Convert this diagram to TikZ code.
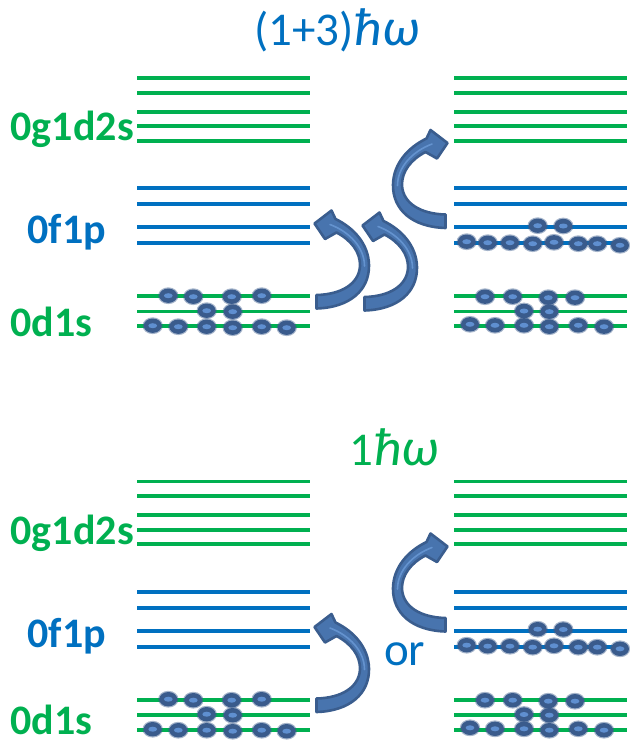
\documentclass[tikz,border=0pt]{standalone}
\usepackage{fontspec}
\setmainfont{Carlito}
\definecolor{lvgreen}{HTML}{00B050}
\definecolor{lvblue}{HTML}{0070C0}
\definecolor{pdark}{HTML}{3A5B8C}
\definecolor{plight}{HTML}{5F8FD0}
\definecolor{arrline}{HTML}{3A5D8E}
\definecolor{arrfill}{HTML}{4874AE}
\definecolor{arrshine}{HTML}{6C9BD8}

% curved arrow, tail at lower left, head pointing left at the top
\newcommand\bentarrow{%
  \filldraw[arrowbody]
    (316.5,308.5) .. controls (350,307.5) and (369.5,290) .. (369,265)
    .. controls (368.5,244) and (354,228) .. (335.5,219)
    -- (331.5,210.5) -- (314.5,223.5) -- (325,239) -- (336.5,232.5)
    .. controls (351,240) and (360.5,252) .. (360,266)
    .. controls (359,284) and (341,294.5) .. (316.5,295)
    -- cycle;
  \draw[arrshine,line width=1.6pt,opacity=0.8,line cap=round]
    (330,224.5) .. controls (350,232) and (364.5,248) .. (364.5,266);
}

% the twelve level lines of one panel, left edge at #1
\newcommand\levels[1]{%
  \foreach \y in {78,92.7,111.7,126.3,140.7}
    \draw[glevel] (#1,\y) -- ++(172.5,0);
  \foreach \y in {188.3,204.3,227.3,243.3}
    \draw[blevel] (#1,\y) -- ++(172.5,0);
  \foreach \y in {296.3,311.5,326.2}
    \draw[glevel] (#1,\y) -- ++(172.5,0);
}

% ground-state filling of the left panel
\newcommand\groundfill{%
  \foreach \a/\b in {168.3/295.7,193.3/296.7,231.7/296.7,261.7/295.7,
                     206.7/310.7,232.7/311.7,
                     152.7/325.7,178.3/326.7,206.7/326.7,232.7/327.7,261.7/326.7,286.7/327.7}
    \pic at (\a,\b) {nucleon};
}

% excited filling of the right panel
\newcommand\excitedfill{%
  \foreach \a/\b in {537.7/225.7,563.3/226,
                     466.7/241.7,487.7/242.7,510/242.7,532.7/243.7,554/242.3,578.3/243.7,597.3/243.7,620/245.3,
                     485/296.7,512.7/296.7,548.3/297.7,575/297.7,
                     524/311,549.3/311.7,
                     470/324.3,495/325.3,524/325.3,549.3/326.7,578.3/325.3,604/326.7}
    \pic at (\a,\b) {nucleon};
}

\begin{document}
\begin{tikzpicture}[x=1pt,y=-1pt,
  glevel/.style={draw=lvgreen,line width=3.8pt},
  blevel/.style={draw=lvblue,line width=3.8pt},
  shelllabel/.style={font=\fontsize{42}{48}\selectfont\bfseries,inner sep=0pt,anchor=base west},
  titletext/.style={font=\fontsize{47}{54}\selectfont,inner sep=0pt,anchor=base west},
  arrowbody/.style={fill=arrfill,draw=arrline,line width=2.6pt,line join=round},
  nucleon/.pic={
    \fill[pdark,opacity=0.45] (0,0) ellipse[x radius=10.2,y radius=8.4];
    \fill[pdark] (0,0) ellipse[x radius=9,y radius=7.2];
    \fill[plight] (0,0) ellipse[x radius=4.4,y radius=2.5];
  }]
\useasboundingbox (0,0) rectangle (629,744);

% upper half: (1+3) hbar omega excitation
\node[titletext,text=lvblue] (titleup) at (254,45) {(1+3)\kern1pt{\fontsize{53}{60}\selectfont\itshape ħω}};
\levels{137}
\levels{454}
\node[shelllabel,text=lvgreen] (gdsup) at (10.5,140.5) {0g1d2s};
\node[shelllabel,text=lvblue] (fpup) at (27.5,243.5) {0f1p};
\node[shelllabel,text=lvgreen] (dsup) at (10.5,336.5) {0d1s};
\groundfill
\excitedfill
\bentarrow
\begin{scope}[shift={(48,2)}]
  \bentarrow
\end{scope}
\begin{scope}[shift={(762,-80.5)},xscale=-1]
  \bentarrow
\end{scope}

% lower half: 1 hbar omega excitation
\begin{scope}[shift={(0,403.5)}]
  \levels{137}
  \levels{454}
  \groundfill
  \excitedfill
  \bentarrow
  \begin{scope}[shift={(762,-80.5)},xscale=-1]
    \bentarrow
  \end{scope}
\end{scope}
\node[titletext,text=lvgreen] (titledown) at (349,465) {1\kern1pt{\fontsize{53}{60}\selectfont\itshape ħω}};
\node[shelllabel,text=lvgreen] (gdsdown) at (10.5,544) {0g1d2s};
\node[shelllabel,text=lvblue] (fpdown) at (27.5,647) {0f1p};
\node[shelllabel,text=lvgreen] (dsdown) at (10.5,734) {0d1s};
\node[titletext,text=lvblue] (ortext) at (384,665) {or};
\end{tikzpicture}
\end{document}
